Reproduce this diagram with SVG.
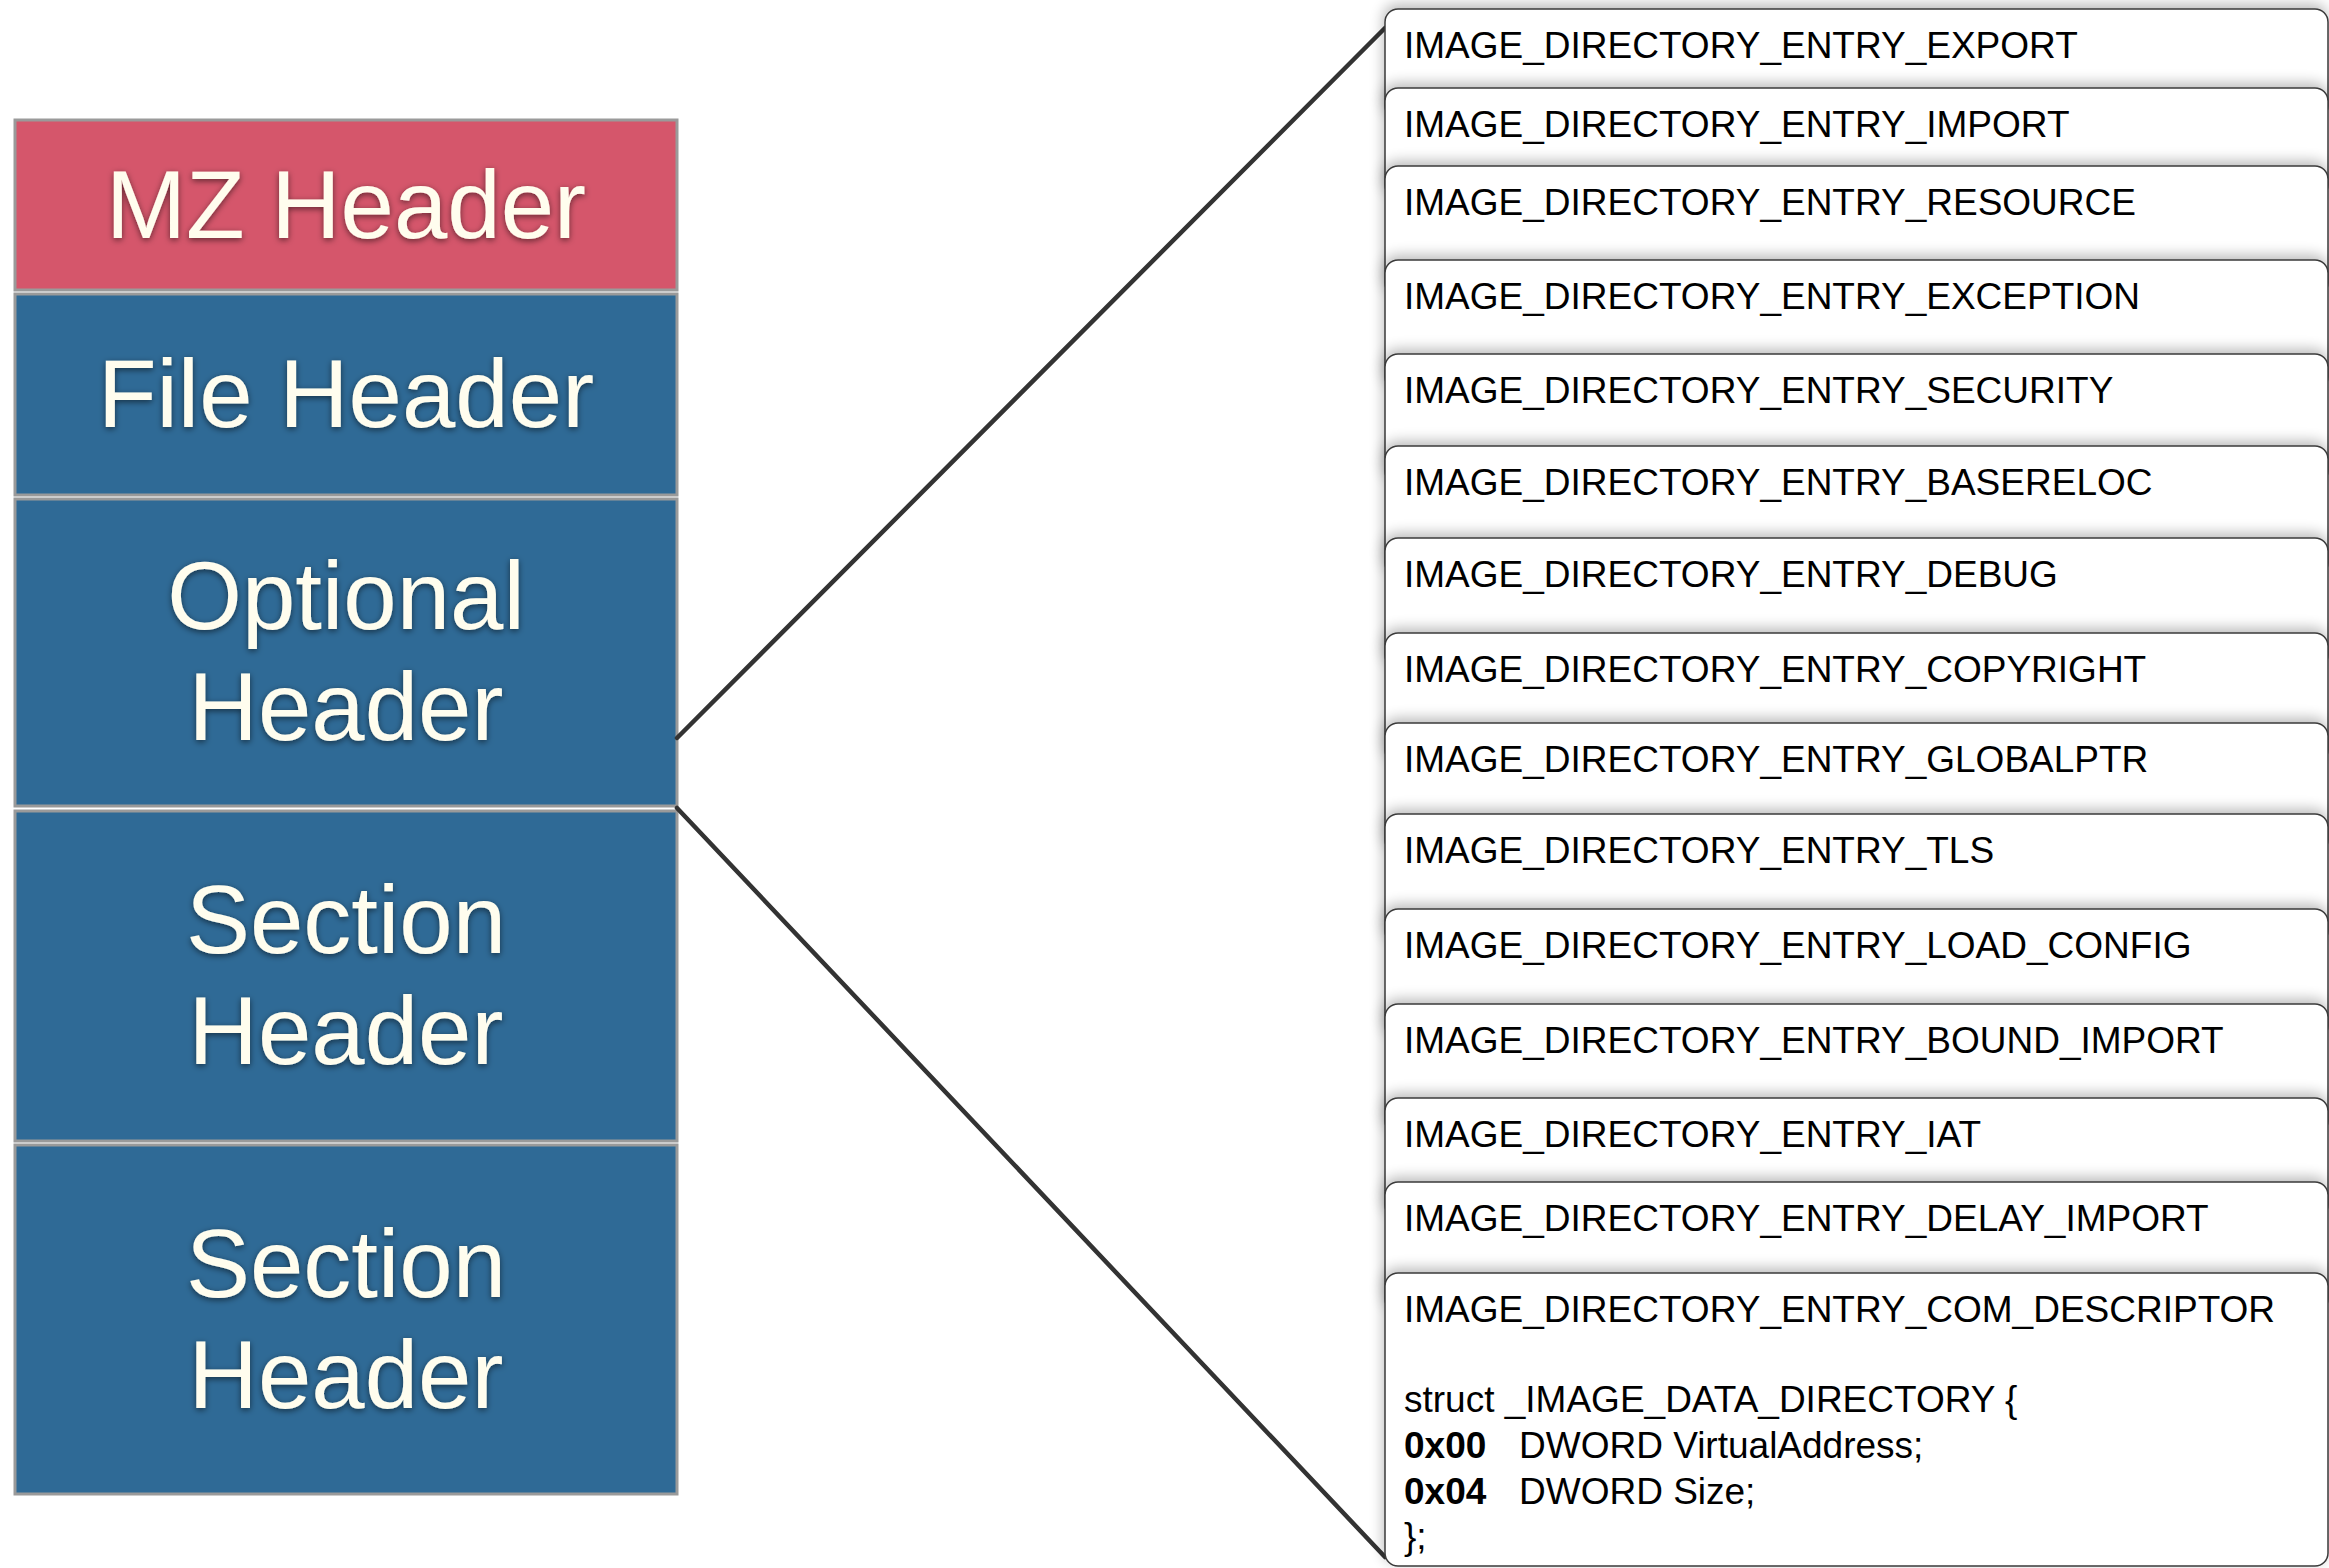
<svg xmlns="http://www.w3.org/2000/svg" width="2329" height="1568" viewBox="0 0 2329 1568">
  <style>
    .hdr { stroke: #9a9a9a; stroke-width: 3; }
    .mz { fill: #D5566B; }
    .blue { fill: #2F6A96; }
    .big { font-family: "Liberation Sans", Arial, sans-serif; font-size: 96px; fill: #FFFDEE; text-anchor: middle; filter: url(#txtshadow); }
    .entry { fill: #ffffff; stroke: #3a3a3a; stroke-width: 1.5; filter: url(#boxshadow); }
    .et { font-family: "Liberation Sans", Arial, sans-serif; font-size: 37px; fill: #000; }
    .b { font-weight: bold; }
    .conn { stroke: #333333; stroke-width: 4.5; fill: none; stroke-linecap: round; }
  </style>
  <defs>
    <filter id="txtshadow" x="-10%" y="-30%" width="120%" height="160%">
      <feDropShadow dx="0" dy="2" stdDeviation="3" flood-color="#000" flood-opacity="0.55"/>
    </filter>
    <filter id="boxshadow" x="-3%" y="-30%" width="106%" height="160%">
      <feGaussianBlur in="SourceAlpha" stdDeviation="7"/>
      <feOffset dx="-1" dy="-4" result="b"/>
      <feComponentTransfer><feFuncA type="linear" slope="0.28"/></feComponentTransfer>
      <feMerge><feMergeNode/><feMergeNode in="SourceGraphic"/></feMerge>
    </filter>
  </defs>
  <rect width="2329" height="1568" fill="#ffffff"/>

  <g id="mz-header">
    <rect class="hdr mz" x="15" y="120" width="662" height="170"/>
    <text class="big" x="346" y="238">MZ Header</text>
  </g>
  <g id="file-header">
    <rect class="hdr blue" x="15" y="294" width="662" height="201"/>
    <text class="big" x="346" y="427">File Header</text>
  </g>
  <g id="optional-header">
    <rect class="hdr blue" x="15" y="499" width="662" height="307"/>
    <text class="big" x="346" y="629">Optional</text>
    <text class="big" x="346" y="740">Header</text>
  </g>
  <g id="section-header-1">
    <rect class="hdr blue" x="15" y="811" width="662" height="330"/>
    <text class="big" x="346" y="953">Section</text>
    <text class="big" x="346" y="1064">Header</text>
  </g>
  <g id="section-header-2">
    <rect class="hdr blue" x="15" y="1145" width="662" height="349"/>
    <text class="big" x="346" y="1297">Section</text>
    <text class="big" x="346" y="1408">Header</text>
  </g>

  <g id="connectors">
    <line class="conn" x1="677" y1="738" x2="1385" y2="28"/>
    <line class="conn" x1="677" y1="808" x2="1385" y2="1557"/>
  </g>

  <g id="e-export"><rect class="entry" x="1385" y="9" width="943" height="110" rx="13"/><text class="et" x="1404" y="58">IMAGE_DIRECTORY_ENTRY_EXPORT</text></g>
  <g id="e-import"><rect class="entry" x="1385" y="88" width="943" height="110" rx="13"/><text class="et" x="1404" y="137">IMAGE_DIRECTORY_ENTRY_IMPORT</text></g>
  <g id="e-resource"><rect class="entry" x="1385" y="166" width="943" height="130" rx="13"/><text class="et" x="1404" y="215">IMAGE_DIRECTORY_ENTRY_RESOURCE</text></g>
  <g id="e-exception"><rect class="entry" x="1385" y="260" width="943" height="130" rx="13"/><text class="et" x="1404" y="309">IMAGE_DIRECTORY_ENTRY_EXCEPTION</text></g>
  <g id="e-security"><rect class="entry" x="1385" y="354" width="943" height="130" rx="13"/><text class="et" x="1404" y="403">IMAGE_DIRECTORY_ENTRY_SECURITY</text></g>
  <g id="e-basereloc"><rect class="entry" x="1385" y="446" width="943" height="130" rx="13"/><text class="et" x="1404" y="495">IMAGE_DIRECTORY_ENTRY_BASERELOC</text></g>
  <g id="e-debug"><rect class="entry" x="1385" y="538" width="943" height="130" rx="13"/><text class="et" x="1404" y="587">IMAGE_DIRECTORY_ENTRY_DEBUG</text></g>
  <g id="e-copyright"><rect class="entry" x="1385" y="633" width="943" height="130" rx="13"/><text class="et" x="1404" y="682">IMAGE_DIRECTORY_ENTRY_COPYRIGHT</text></g>
  <g id="e-globalptr"><rect class="entry" x="1385" y="723" width="943" height="130" rx="13"/><text class="et" x="1404" y="772">IMAGE_DIRECTORY_ENTRY_GLOBALPTR</text></g>
  <g id="e-tls"><rect class="entry" x="1385" y="814" width="943" height="130" rx="13"/><text class="et" x="1404" y="863">IMAGE_DIRECTORY_ENTRY_TLS</text></g>
  <g id="e-load-config"><rect class="entry" x="1385" y="909" width="943" height="130" rx="13"/><text class="et" x="1404" y="958">IMAGE_DIRECTORY_ENTRY_LOAD_CONFIG</text></g>
  <g id="e-bound-import"><rect class="entry" x="1385" y="1004" width="943" height="130" rx="13"/><text class="et" x="1404" y="1053">IMAGE_DIRECTORY_ENTRY_BOUND_IMPORT</text></g>
  <g id="e-iat"><rect class="entry" x="1385" y="1098" width="943" height="120" rx="13"/><text class="et" x="1404" y="1147">IMAGE_DIRECTORY_ENTRY_IAT</text></g>
  <g id="e-delay-import"><rect class="entry" x="1385" y="1182" width="943" height="130" rx="13"/><text class="et" x="1404" y="1231">IMAGE_DIRECTORY_ENTRY_DELAY_IMPORT</text></g>
  <g id="e-com-descriptor">
    <rect class="entry" x="1385" y="1273" width="943" height="293" rx="13"/>
    <text class="et" x="1404" y="1322">IMAGE_DIRECTORY_ENTRY_COM_DESCRIPTOR</text>
    <text class="et" x="1404" y="1412">struct _IMAGE_DATA_DIRECTORY {</text>
    <text class="et b" x="1404" y="1458">0x00</text>
    <text class="et" x="1519" y="1458">DWORD VirtualAddress;</text>
    <text class="et b" x="1404" y="1504">0x04</text>
    <text class="et" x="1519" y="1504">DWORD Size;</text>
    <text class="et" x="1404" y="1549">};</text>
  </g>
</svg>
